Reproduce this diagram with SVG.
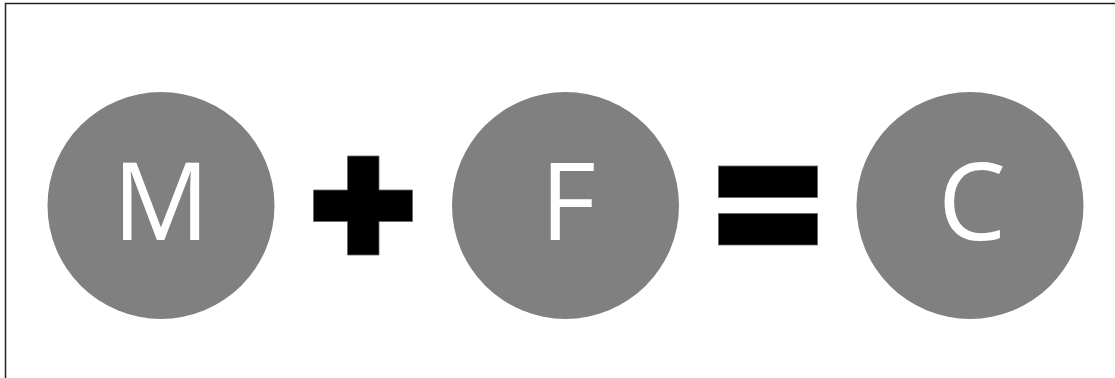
<svg xmlns="http://www.w3.org/2000/svg" width="1115" height="378" viewBox="0 0 1115 378">
<style>
.node circle{fill:#808080}
.node text{fill:#fff;font-family:"Open Sans","Liberation Sans",sans-serif;font-size:108px;text-anchor:middle}
.op{fill:#000;stroke:#666;stroke-width:0.8}
</style>
<rect width="1115" height="378" fill="#fff"/>
<path d="M5.5,378 V3.5 H1115" fill="none" stroke="#222" stroke-width="1.5"/>
<g id="node-M" class="node"><circle cx="161" cy="205.5" r="113.5"/><text x="161" y="240">M</text></g>
<g id="node-F" class="node"><circle cx="565.5" cy="205.5" r="113.5"/><text x="568" y="240">F</text></g>
<g id="node-C" class="node"><circle cx="970" cy="205.5" r="113.5"/><text x="972" y="240">C</text></g>
<g id="connectors">
<path id="plus" class="op" d="M347.5,156 H379 V190 H412.5 V221.5 H379 V255 H347.5 V221.5 H313.5 V190 H347.5 Z"/>
<g id="equals"><rect class="op" x="718.5" y="166" width="99" height="31.5"/><rect class="op" x="718.5" y="213.5" width="99" height="31.5"/></g>
</g>
</svg>
